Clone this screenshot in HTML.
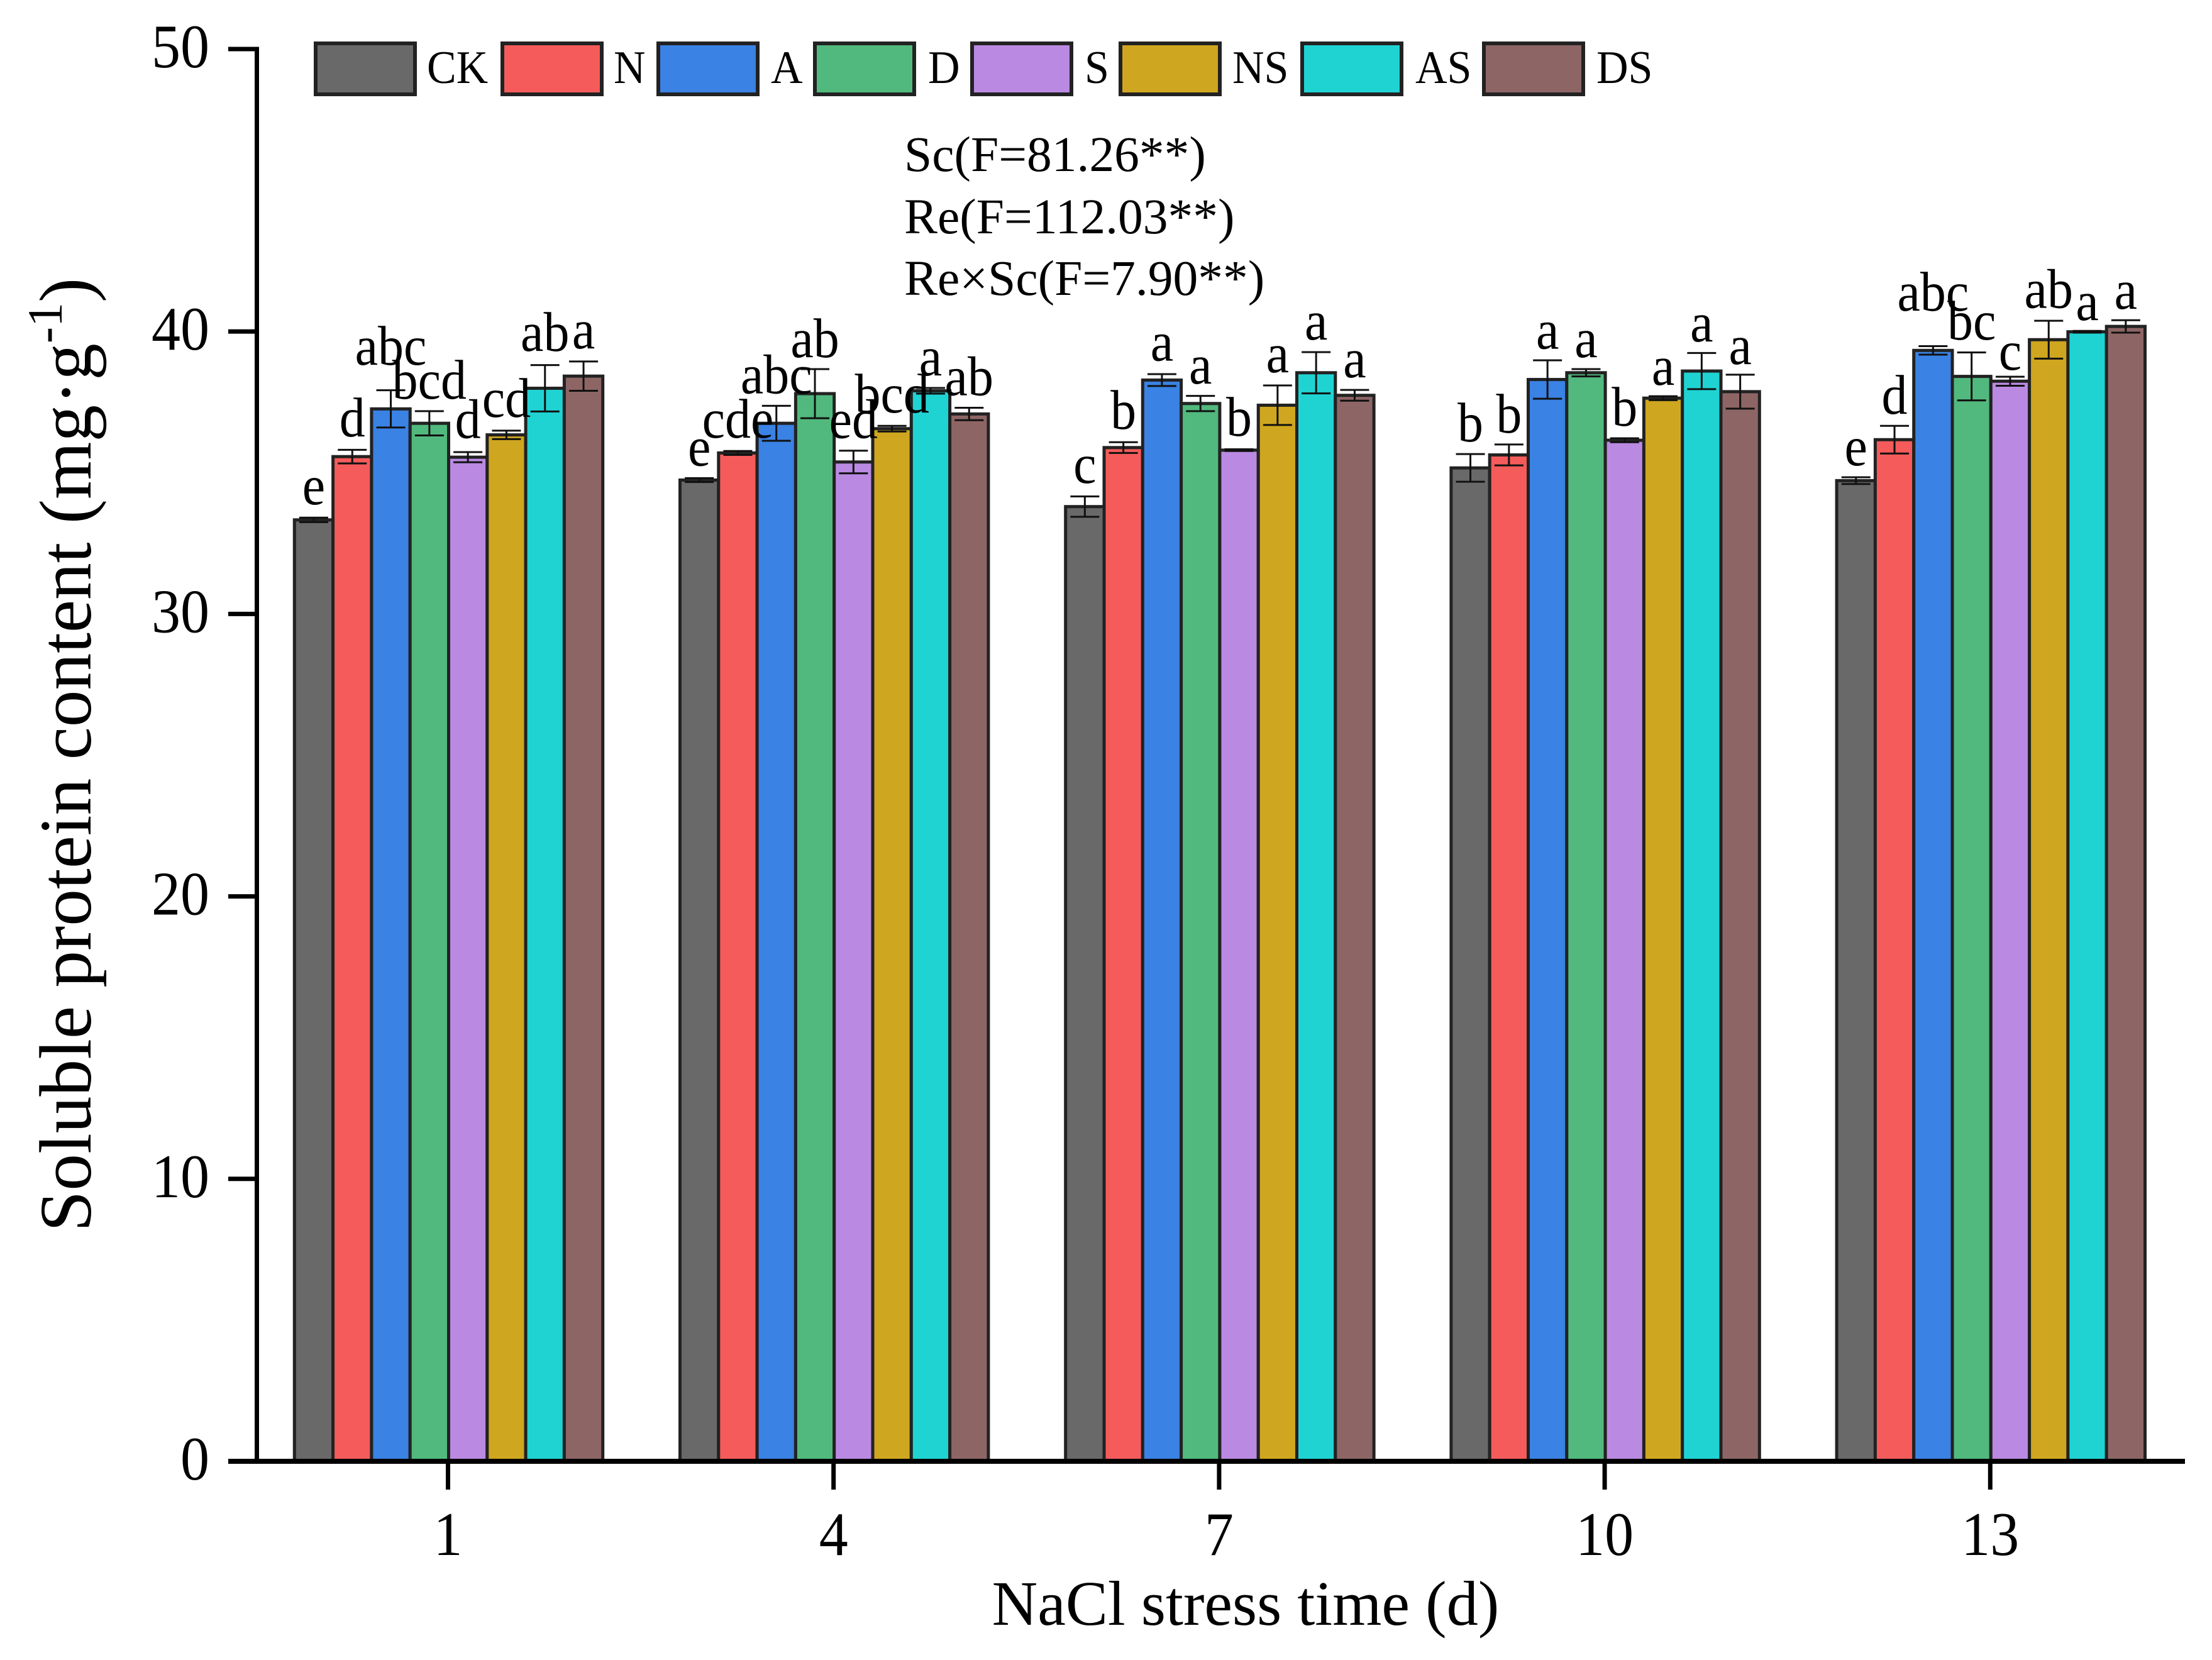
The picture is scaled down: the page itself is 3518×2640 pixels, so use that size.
<!DOCTYPE html>
<html lang="en">
<head>
<meta charset="utf-8">
<title>Soluble protein content under NaCl stress</title>
<style>
html,body{margin:0;padding:0;background:#fff;}
svg{display:block;}
text{font-family:"Liberation Serif",serif;fill:#000;}
</style>
</head>
<body>
<svg id="chart" xmlns="http://www.w3.org/2000/svg" width="3518" height="2640" viewBox="0 0 3518 2640">
  <rect x="0" y="0" width="3518" height="2640" fill="#ffffff"/>
  <g id="bars"></g>
  <g id="errors"></g>
  <g id="letters" font-size="82" text-anchor="middle"></g>
  <g id="axes"></g>

  <g font-size="70">
    <g><rect x="502" y="69" width="158" height="81" fill="#696969" stroke="#222" stroke-width="6"/><text transform="translate(679 132) scale(1 1.06)">CK</text></g>
    <g><rect x="799" y="69" width="158" height="81" fill="#F55B5B" stroke="#222" stroke-width="6"/><text transform="translate(976 132) scale(1 1.06)">N</text></g>
    <g><rect x="1047" y="69" width="158" height="81" fill="#3A82E4" stroke="#222" stroke-width="6"/><text transform="translate(1226 132) scale(1 1.06)">A</text></g>
    <g><rect x="1296" y="69" width="158" height="81" fill="#52B97E" stroke="#222" stroke-width="6"/><text transform="translate(1476 132) scale(1 1.06)">D</text></g>
    <g><rect x="1546" y="69" width="158" height="81" fill="#BA8AE2" stroke="#222" stroke-width="6"/><text transform="translate(1725 132) scale(1 1.06)">S</text></g>
    <g><rect x="1782" y="69" width="158" height="81" fill="#CFA61F" stroke="#222" stroke-width="6"/><text transform="translate(1960 132) scale(1 1.06)">NS</text></g>
    <g><rect x="2071" y="69" width="158" height="81" fill="#20D3D3" stroke="#222" stroke-width="6"/><text transform="translate(2251 132) scale(1 1.06)">AS</text></g>
    <g><rect x="2360" y="69" width="158" height="81" fill="#8E6565" stroke="#222" stroke-width="6"/><text transform="translate(2539 132) scale(1 1.06)">DS</text></g>
  </g>

  <g font-size="79.5">
    <text x="1438" y="272">Sc(F=81.26**)</text>
    <text x="1438" y="371">Re(F=112.03**)</text>
    <text x="1438" y="469">Re×Sc(F=7.90**)</text>
  </g>

  <text x="1981" y="2584" font-size="100.5" text-anchor="middle">NaCl stress time (d)</text>
  <text transform="translate(144 1959) rotate(-90)" font-size="117.5" x="0" y="0">Soluble protein content (mg·g<tspan font-size="78" dy="-46">-1</tspan><tspan dy="46">)</tspan></text>
</svg>

<script>
const categories = ['1', '4', '7', '10', '13'];
const yTickLabels = [0, 10, 20, 30, 40, 50];
const seriesNames = ['CK', 'N', 'A', 'D', 'S', 'NS', 'AS', 'DS'];
const seriesColors = ['#696969', '#F55B5B', '#3A82E4', '#52B97E', '#BA8AE2', '#CFA61F', '#20D3D3', '#8E6565'];

const valuesCK = [33.33, 34.74, 33.80, 35.17, 34.72];
const valuesN  = [35.57, 35.70, 35.89, 35.63, 36.17];
const valuesA  = [37.26, 36.75, 38.28, 38.30, 39.33];
const valuesD  = [36.75, 37.80, 37.45, 38.54, 38.41];
const valuesS  = [35.55, 35.38, 35.80, 36.15, 38.24];
const valuesNS = [36.34, 36.56, 37.39, 37.64, 39.71];
const valuesAS = [37.99, 37.90, 38.54, 38.60, 39.99];
const valuesDS = [38.42, 37.08, 37.74, 37.87, 40.18];

const errorsCK = [0.08, 0.07, 0.36, 0.49, 0.12];
const errorsN  = [0.24, 0.07, 0.19, 0.37, 0.49];
const errorsA  = [0.66, 0.62, 0.21, 0.68, 0.15];
const errorsD  = [0.43, 0.87, 0.27, 0.13, 0.85];
const errorsS  = [0.18, 0.40, 0.03, 0.07, 0.16];
const errorsNS = [0.15, 0.10, 0.70, 0.07, 0.67];
const errorsAS = [0.82, 0.10, 0.73, 0.64, 0.03];
const errorsDS = [0.52, 0.22, 0.19, 0.60, 0.22];

const lettersCK = ['e', 'e', 'c', 'b', 'e'];
const lettersN  = ['d', 'cde', 'b', 'b', 'd'];
const lettersA  = ['abc', 'abc', 'a', 'a', 'abc'];
const lettersD  = ['bcd', 'ab', 'a', 'a', 'bc'];
const lettersS  = ['d', 'ed', 'b', 'b', 'c'];
const lettersNS = ['cd', 'bcd', 'a', 'a', 'ab'];
const lettersAS = ['ab', 'a', 'a', 'a', 'a'];
const lettersDS = ['a', 'ab', 'a', 'a', 'a'];

/* height of each letter's baseline above its bar, in mg·g-1 */
const liftCK = [0.55, 0.51, 0.84, 0.94, 0.54];
const liftN  = [0.72, 0.54, 0.66, 0.79, 0.92];
const liftA  = [1.56, 1.06, 0.69, 1.09, 1.41];
const liftD  = [0.87, 1.29, 0.71, 0.55, 1.31];
const liftS  = [0.68, 0.85, 0.51, 0.52, 0.41];
const liftNS = [0.64, 0.57, 1.17, 0.47, 1.13];
const liftAS = [1.32, 0.55, 1.18, 1.05, 0.42];
const liftDS = [0.98, 0.66, 0.64, 0.98, 0.63];

const seriesValues = [valuesCK, valuesN, valuesA, valuesD, valuesS, valuesNS, valuesAS, valuesDS];
const seriesErrors = [errorsCK, errorsN, errorsA, errorsD, errorsS, errorsNS, errorsAS, errorsDS];
const seriesLetters = [lettersCK, lettersN, lettersA, lettersD, lettersS, lettersNS, lettersAS, lettersDS];
const seriesLifts = [liftCK, liftN, liftA, liftD, liftS, liftNS, liftAS, liftDS];

const SVG_NS = 'http://www.w3.org/2000/svg';
const barsLayer = document.getElementById('bars');
const errorsLayer = document.getElementById('errors');
const lettersLayer = document.getElementById('letters');
const axesLayer = document.getElementById('axes');

const Y_ZERO = 2324, Y_UNIT = 44.92;
const X_FIRST = 712.5, X_STEP = 613.2, BAR_W = 61.3, CAP_HALF = 23, BAR_SHIFT = 1;

function yScale(v) { return Y_ZERO - v * Y_UNIT; }
function xCenter(g) { return X_FIRST + g * X_STEP; }
function barLeft(g, s) { return xCenter(g) + BAR_SHIFT + (s - seriesNames.length / 2) * BAR_W; }

function make(tag, attrs, parent) {
  const el = document.createElementNS(SVG_NS, tag);
  Object.keys(attrs).forEach(function (k) { el.setAttribute(k, attrs[k]); });
  parent.appendChild(el);
  return el;
}

seriesNames.forEach(function (name, s) {
  categories.forEach(function (cat, g) {
    const v = seriesValues[s][g];
    const err = seriesErrors[s][g];
    const left = barLeft(g, s);
    const mid = left + BAR_W / 2;
    const key = name.toLowerCase() + '-day-' + cat;

    const bar = make('rect', {
      x: left, y: yScale(v), width: BAR_W, height: Y_ZERO - yScale(v),
      fill: seriesColors[s], stroke: '#222', 'stroke-width': 5
    }, barsLayer);
    
    

    const stem = make('line', {
      x1: mid, x2: mid, y1: yScale(v + err), y2: yScale(v - err),
      stroke: '#111', 'stroke-width': 3
    }, errorsLayer);
    
    

    const capTop = make('line', {
      x1: mid - CAP_HALF, x2: mid + CAP_HALF, y1: yScale(v + err), y2: yScale(v + err),
      stroke: '#111', 'stroke-width': 3
    }, errorsLayer);
    
    

    const capBottom = make('line', {
      x1: mid - CAP_HALF, x2: mid + CAP_HALF, y1: yScale(v - err), y2: yScale(v - err),
      stroke: '#111', 'stroke-width': 3
    }, errorsLayer);
    
    

    const letter = make('text', {
      transform: 'translate(' + mid + ' ' + yScale(v + seriesLifts[s][g]) + ') scale(1 1.08)'
    }, lettersLayer);
    
    
    letter.textContent = seriesLetters[s][g];
  });
});

const yAxisLine = make('rect', { x: 405, y: yScale(50) - 3.5, width: 7, height: Y_ZERO - yScale(50) + 3.5, fill: '#000' }, axesLayer);



const xAxisLine = make('rect', { x: 363, y: Y_ZERO - 4, width: 3112, height: 8, fill: '#000' }, axesLayer);



yTickLabels.forEach(function (t) {
  const y = yScale(t);
  const tick = make('rect', { x: 363, y: y - 3.5, width: 45, height: 7, fill: '#000' }, axesLayer);
  
  
  const label = make('text', {
    transform: 'translate(333 ' + (y + 29) + ') scale(1 1.07)',
    'font-size': 92, 'text-anchor': 'end'
  }, axesLayer);
  
  
  label.textContent = t;
});

categories.forEach(function (cat, g) {
  const x = xCenter(g);
  const tick = make('rect', { x: x - 3.5, y: Y_ZERO, width: 7, height: 45, fill: '#000' }, axesLayer);
  
  
  const label = make('text', {
    transform: 'translate(' + x + ' 2473) scale(1 1.07)',
    'font-size': 92, 'text-anchor': 'middle'
  }, axesLayer);
  
  
  label.textContent = cat;
});
</script>
</body>
</html>
